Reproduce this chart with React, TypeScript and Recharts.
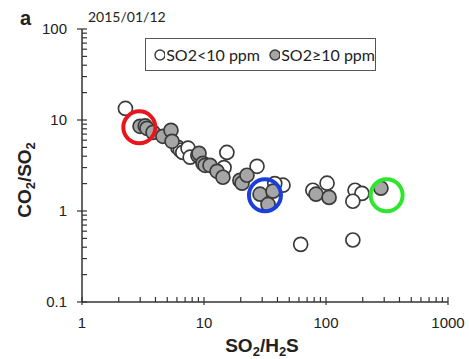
import React from 'react';
import { ScatterChart, Scatter, XAxis, YAxis, Legend, Customized, ReferenceLine } from 'recharts';

// SO2/H2S (x) vs CO2/SO2 (y)
const OPEN_X = [2.27, 6.1, 6.4, 6.7, 7.4, 7.7, 15.4, 14.6, 27.2, 44.4, 38, 78, 102, 173, 197, 166, 62, 166];
const OPEN_Y = [13.4, 5.0, 4.65, 4.4, 4.9, 3.9, 4.4, 3.0, 3.1, 1.92, 2.0, 1.69, 2.02, 1.69, 1.56, 1.28, 0.43, 0.48];
const GRAY_X = [2.99, 3.3, 3.41, 3.82, 4.61, 5.36, 5.47, 8.9, 9.1, 9.81, 10.2, 11.2, 12.8, 14.3, 19.7, 20.5, 22.5, 28.8, 33.5, 36.8, 82.8, 106, 282];
const GRAY_Y = [8.53, 8.6, 8.11, 7.32, 6.62, 7.7, 5.83, 4.09, 4.3, 3.34, 3.18, 3.18, 2.73, 2.35, 2.17, 2.02, 2.47, 1.53, 1.18, 1.65, 1.53, 1.41, 1.78];

// highlighted samples (coloured rings)
const RING_X = [2.95, 31.6, 314];
const RING_Y = [8.3, 1.49, 1.49];

const X_TICKS = [1, 2, 3, 4, 5, 6, 7, 8, 9, 10, 20, 30, 40, 50, 60, 70, 80, 90, 100, 200, 300, 400, 500, 600, 700, 800, 900, 1000];
const Y_TICKS = [0.1, 0.2, 0.3, 0.4, 0.5, 0.6, 0.7, 0.8, 0.9, 1, 2, 3, 4, 5, 6, 7, 8, 9, 10, 20, 30, 40, 50, 60, 70, 80, 90, 100];
const MAJOR = [0.1, 1, 10, 100, 1000];

const TITLE = '2015/01/12';
const LEGEND_OPEN = 'SO2<10 ppm';
const LEGEND_GRAY = 'SO2≥10 ppm';

const RING_COLORS = ['#e8161c', '#1b3fdc', '#2ee62e'];
const AXIS = '#333';
const FRAME = '#666';
const TEXT = '#222';
const TICK_FONT = '"Liberation Sans", Arial, sans-serif';
const SOFT_FONT = 'Lato, "Open Sans", sans-serif';

const openData = OPEN_X.map((x, i) => ({ x, y: OPEN_Y[i] }));
const grayData = GRAY_X.map((x, i) => ({ x, y: GRAY_Y[i] }));

const XTick = (props: any) => {
  const { x, y, payload } = props;
  if (!MAJOR.includes(payload.value)) return <g />;
  return (
    <text x={x} y={y + 26} textAnchor="middle" fontSize={15} fontFamily={TICK_FONT} fill={TEXT}>
      {payload.value}
    </text>
  );
};

const YTick = (props: any) => {
  const { x, y, payload } = props;
  if (!MAJOR.includes(payload.value)) return <g />;
  return (
    <text x={x - 15} y={y + 5} textAnchor="end" fontSize={15} fontFamily={TICK_FONT} fill={TEXT}>
      {payload.value}
    </text>
  );
};

// short tick marks drawn at the ends of reference lines
const VTick = (major: boolean) => (p: any) => {
  const yb = Math.max(p.y1, p.y2);
  return <line x1={p.x1} x2={p.x1} y1={yb - 5} y2={major ? yb + 3 : yb} stroke={AXIS} strokeWidth={1.2} />;
};

const HTick = (major: boolean) => (p: any) => {
  const xl = Math.min(p.x1, p.x2);
  return <line x1={major ? xl - 5 : xl} x2={xl + 5} y1={p.y1} y2={p.y1} stroke={AXIS} strokeWidth={1.2} />;
};

const Dot = (fill: string) => (props: any) => (
  <circle cx={props.cx} cy={props.cy} r={7} fill={fill} stroke="#3a3a3a" strokeWidth={1.7} />
);

const Ring = (color: string) => (props: any) => (
  <circle cx={props.cx} cy={props.cy} r={16} fill="none" stroke={color} strokeWidth={4} />
);

const renderLegend = () => (
  <div
    style={{
      width: 231,
      height: 33,
      boxSizing: 'border-box',
      border: '1.5px solid #555',
      background: '#fff',
      display: 'flex',
      alignItems: 'center',
      fontFamily: SOFT_FONT,
      fontSize: 16,
      color: TEXT,
      whiteSpace: 'nowrap',
    }}
  >
    <svg width={14} height={14} style={{ marginLeft: 7, marginRight: 1 }}>
      <circle cx={7} cy={7} r={5} fill="#fff" stroke="#3a3a3a" strokeWidth={1.4} />
    </svg>
    <span>{LEGEND_OPEN}</span>
    <svg width={14} height={14} style={{ marginLeft: 8, marginRight: 1 }}>
      <circle cx={7} cy={7} r={5} fill="#a6a6a6" stroke="#3a3a3a" strokeWidth={1.4} />
    </svg>
    <span>{LEGEND_GRAY}</span>
  </div>
);

const Annotations = () => (
  <g>
    <text x={20} y={25} fontSize={20} fontWeight="bold" fontFamily={TICK_FONT} fill={TEXT}>
      a
    </text>
    <text x={88} y={22} fontSize={14} fontFamily={SOFT_FONT} fill={TEXT}>
      {TITLE}
    </text>
    <text
      transform="translate(31,180) rotate(-90)"
      textAnchor="middle"
      fontSize={19}
      fontWeight="bold"
      fontFamily={TICK_FONT}
      fill={TEXT}
    >
      <tspan>CO</tspan>
      <tspan dy={4} fontSize={13}>2</tspan>
      <tspan dy={-4}>/SO</tspan>
      <tspan dy={4} fontSize={13}>2</tspan>
    </text>
    <text x={262} y={352} textAnchor="middle" fontSize={19} fontWeight="bold" fontFamily={TICK_FONT} fill={TEXT}>
      <tspan>SO</tspan>
      <tspan dy={4} fontSize={13}>2</tspan>
      <tspan dy={-4}>/H</tspan>
      <tspan dy={4} fontSize={13}>2</tspan>
      <tspan dy={-4}>S</tspan>
    </text>
  </g>
);

export default function App() {
  return (
    <div style={{ position: 'absolute', left: 0, top: 0, width: 469, height: 359, background: '#fff' }}>
      <ScatterChart width={469} height={359} margin={{ top: 29, right: 21, left: 0, bottom: 0 }}>
        <XAxis
          type="number"
          dataKey="x"
          scale="log"
          domain={[1, 1000]}
          ticks={X_TICKS}
          interval={0}
          allowDataOverflow
          height={57}
          tickSize={0}
          tickMargin={0}
          tickLine={false}
          tick={XTick}
          axisLine={{ stroke: AXIS, strokeWidth: 1.5 }}
        />
        <XAxis
          xAxisId="top"
          orientation="top"
          type="number"
          domain={[1, 1000]}
          height={0}
          tick={false}
          tickLine={false}
          axisLine={{ stroke: FRAME, strokeWidth: 1.5 }}
        />
        <YAxis
          type="number"
          dataKey="y"
          scale="log"
          domain={[0.1, 100]}
          ticks={Y_TICKS}
          interval={0}
          allowDataOverflow
          width={82}
          tickSize={0}
          tickMargin={0}
          tickLine={false}
          tick={YTick}
          axisLine={{ stroke: AXIS, strokeWidth: 1.5 }}
        />
        <YAxis
          yAxisId="right"
          orientation="right"
          type="number"
          domain={[0.1, 100]}
          width={0}
          tick={false}
          tickLine={false}
          axisLine={{ stroke: FRAME, strokeWidth: 1.5 }}
        />
        {X_TICKS.map((v) => (
          <ReferenceLine key={`xt${v}`} x={v} stroke={AXIS} shape={VTick(MAJOR.includes(v))} />
        ))}
        {Y_TICKS.map((v) => (
          <ReferenceLine key={`yt${v}`} y={v} stroke={AXIS} shape={HTick(MAJOR.includes(v))} />
        ))}
        <Scatter data={openData} shape={Dot('#fff')} isAnimationActive={false} />
        <Scatter data={grayData} shape={Dot('#a6a6a6')} isAnimationActive={false} />
        {RING_X.map((x, i) => (
          <Scatter
            key={i}
            data={[{ x, y: RING_Y[i] }]}
            shape={Ring(RING_COLORS[i])}
            isAnimationActive={false}
          />
        ))}
        <Legend
          layout="horizontal"
          verticalAlign="middle"
          align="center"
          content={renderLegend}
          wrapperStyle={{ left: 145, top: 38, width: 231, height: 33 }}
        />
        <Customized component={Annotations} />
      </ScatterChart>
    </div>
  );
}
